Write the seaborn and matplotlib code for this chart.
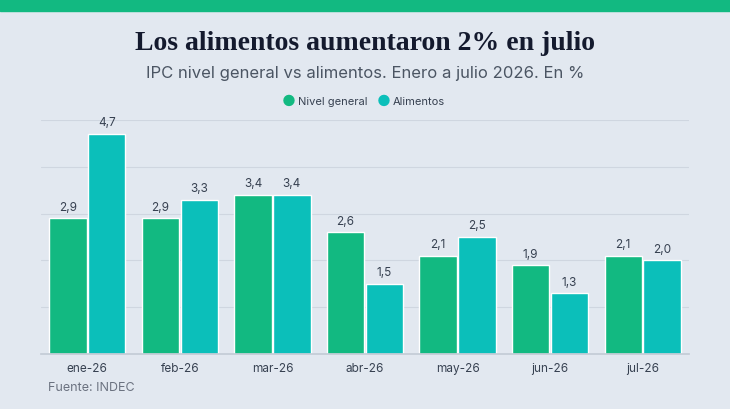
import matplotlib
matplotlib.use("Agg")
import matplotlib.pyplot as plt
import seaborn as sns
import pandas as pd
from matplotlib.patches import Rectangle

meses = ["ene-26", "feb-26", "mar-26", "abr-26", "may-26", "jun-26", "jul-26"]
nivel_general = [2.9, 2.9, 3.4, 2.6, 2.1, 1.9, 2.1]
alimentos = [4.7, 3.3, 3.4, 1.5, 2.5, 1.3, 2.0]

df = pd.DataFrame({
    "mes": meses * 2,
    "valor": nivel_general + alimentos,
    "serie": ["Nivel general"] * 7 + ["Alimentos"] * 7,
})

bg = "#e2e8f0"
sns.set_theme(style="white")
plt.rcParams["font.family"] = ["Inter", "DejaVu Sans"]

fig = plt.figure(figsize=(7.3, 4.1), dpi=100, facecolor=bg)
fig.patches.append(Rectangle((0, 1 - 12 / 410), 1, 12 / 410, transform=fig.transFigure,
                             color="#12b981", zorder=0))
ax = fig.add_axes([41 / 730, 55 / 410, 648 / 730, 234 / 410], facecolor=bg)

sns.barplot(data=df, x="mes", y="valor", hue="serie", ax=ax,
            palette=["#12b981", "#0bbfba"], width=0.84, gap=0.04,
            legend=False, saturation=1)

for c in ax.containers:
    ax.bar_label(c, labels=[f"{v:.1f}".replace(".", ",") for v in c.datavalues],
                 padding=4, fontsize=8.5, color="#374151")

ax.set_ylim(0, 5)
ax.set_xlim(-0.5, 6.5)
ax.set_yticks([1, 2, 3, 4, 5])
ax.yaxis.grid(True, color="#cfd6e0", linewidth=0.8)
ax.set_axisbelow(True)
ax.set_yticklabels([])
ax.tick_params(axis="y", length=0)
ax.tick_params(axis="x", length=0, labelsize=8.5, labelcolor="#374151", pad=6)
ax.set_xlabel("")
ax.set_ylabel("")
for s in ["top", "right", "left"]:
    ax.spines[s].set_visible(False)
ax.spines["bottom"].set_color("#c4ccd6")

fig.text(0.5, 0.895, "Los alimentos aumentaron 2% en julio", ha="center", va="center",
         fontsize=20, fontweight="bold", color="#141a2e", family=["Liberation Serif", "DejaVu Serif"])
fig.text(0.5, 0.82, "IPC nivel general vs alimentos. Enero a julio 2026. En %", ha="center",
         va="center", fontsize=12, color="#4b5563")

for x, lab, col in [(0.395, "Nivel general", "#12b981"), (0.525, "Alimentos", "#0bbfba")]:
    fig.text(x, 0.752, "\u25cf", ha="center", va="center", fontsize=11, color=col)
    fig.text(x + 0.013, 0.752, lab, ha="left", va="center", fontsize=8, color="#374151")

fig.text(48 / 730, 1 - 388 / 410, "Fuente: INDEC", ha="left", va="center",
         fontsize=9, color="#6b7280")

fig.savefig("out.png", dpi=100, facecolor=bg)
